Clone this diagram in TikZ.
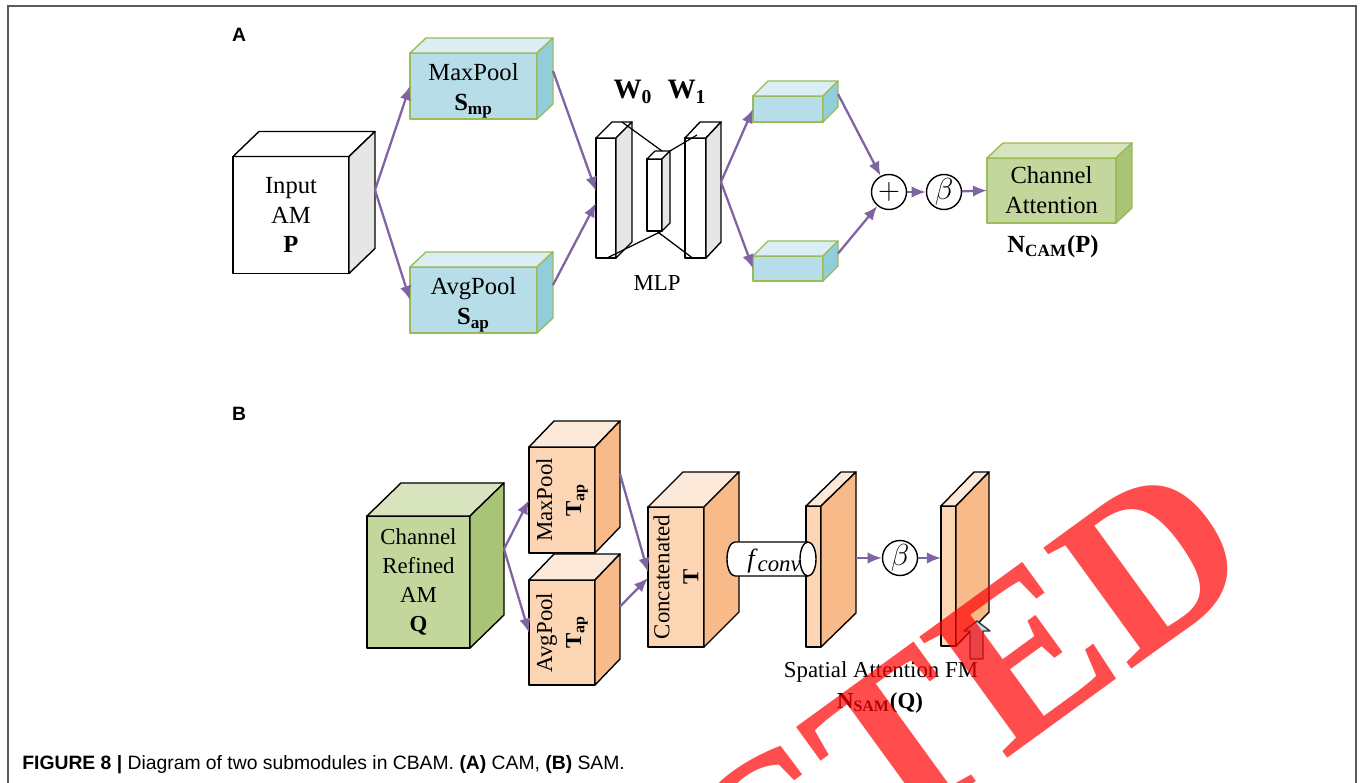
\documentclass[tikz,border=0pt]{standalone}
\usepackage{fontspec}
\setmainfont{Liberation Serif}
\setsansfont{Liberation Sans}
\newfontfamily\capfont{Liberation Sans}
\usepackage{tikz}
\usetikzlibrary{arrows.meta,calc}

\definecolor{arrowpurple}{HTML}{8064A2}
\definecolor{bluefront}{HTML}{B7DDE8}
\definecolor{bluetop}{HTML}{DAEEF3}
\definecolor{blueside}{HTML}{92CDDC}
\definecolor{greenfront}{HTML}{C3D69B}
\definecolor{greentop}{HTML}{D7E4BD}
\definecolor{greenside}{HTML}{A9C476}
\definecolor{greenedge}{HTML}{9BBB59}
\definecolor{orangefront}{HTML}{FCD5B5}
\definecolor{orangetop}{HTML}{FDE9D9}
\definecolor{orangeside}{HTML}{F9BA8A}
\definecolor{grayside}{HTML}{E6E6E6}
\definecolor{framegray}{HTML}{5A5A5A}

\tikzset{
  face/.style={draw=black, line width=0.8pt, line join=round},
  box/.style 2 args={rectangle, inner sep=0pt, outer sep=0pt, align=center,
    minimum width=#1*0.02cm, minimum height=#2*0.02cm},
  whiteface/.style={face, fill=white},
  grayface/.style={face, fill=grayside},
  bluefrontface/.style={face, draw=greenedge, fill=bluefront},
  bluetopface/.style={face, draw=greenedge, fill=bluetop},
  bluesideface/.style={face, draw=greenedge, fill=blueside},
  camfrontface/.style={face, draw=greenedge, fill=greenfront},
  camtopface/.style={face, draw=greenedge, fill=greentop},
  camsideface/.style={face, draw=greenedge, fill=greenside},
  greenfrontface/.style={face, fill=greenfront},
  greentopface/.style={face, fill=greentop},
  greensideface/.style={face, fill=greenside},
  orangefrontface/.style={face, fill=orangefront},
  orangetopface/.style={face, fill=orangetop},
  orangesideface/.style={face, fill=orangeside},
  conn/.style={arrowpurple, line width=1.3pt, -{Latex[length=8pt,width=6.5pt]}},
  opcirc/.style={circle, draw, line width=0.8pt, fill=white, inner sep=0pt,
    minimum size=35*0.02cm, font=\fontsize{18}{20}\selectfont},
  panel/.style={font=\sffamily\bfseries\fontsize{11}{13}\selectfont}
}

% top and side faces of a box whose front face is the node #1
\newcommand{\cuboid}[5]{%
  \draw[#4] (#1.north west) -- ++(#2,#3) -- ($(#1.north east)+(#2,#3)$) -- (#1.north east) -- cycle;
  \draw[#5] (#1.north east) -- ++(#2,#3) -- ($(#1.south east)+(#2,#3)$) -- (#1.south east) -- cycle;
  \coordinate (#1-r) at ($(#1.east)+(#2,#3)$);
}

\begin{document}
\begin{tikzpicture}[x=0.02cm, y=-0.02cm, font=\fontsize{14}{17}\selectfont]
\useasboundingbox (0,0) rectangle (1360,783);

%frame round the figure
\draw[framegray, line width=1pt] (8,783) -- (8,6) -- (1356,6) -- (1356,783);

%%%%%% part A: channel attention
\node[panel] (labA) at (239,35) {A};

%input cube and the two pooling boxes
\node[whiteface, box={116}{117}] (inp) at (291,215) {Input\\AM\\\textbf{P}};
\cuboid{inp}{26}{-25}{whiteface}{grayface}
\node[bluefrontface, box={127}{66}] (maxp) at (473.5,86) {\rule{0pt}{15pt}MaxPool\\\textbf{S\textsubscript{mp}}};
\cuboid{maxp}{16}{-15}{bluetopface}{bluesideface}
\node[bluefrontface, box={127}{66}] (avgp) at (473.5,300) {\rule{0pt}{15pt}AvgPool\\\textbf{S\textsubscript{ap}}};
\cuboid{avgp}{16}{-15}{bluetopface}{bluesideface}

%shared MLP
\node[whiteface, box={20}{120}] (w0) at (606,198) {};
\cuboid{w0}{16}{-16}{whiteface}{grayface}
\node[whiteface, box={15}{72}] (hid) at (654.5,195) {};
\cuboid{hid}{8}{-8}{whiteface}{grayface}
\node[whiteface, box={21}{120}] (w1) at (695.5,198) {};
\cuboid{w1}{15}{-16}{whiteface}{grayface}
\draw[line width=0.7pt] ($(w0.north)+(16,-16)$) -- ($(hid.north east)+(0,-8)$);
\draw[line width=0.7pt] ($(hid.north east)+(8,-8)$) -- ($(w1.north west)+(12,-3)$);
\draw[line width=0.7pt] ($(w0.south)+(1,0)$) -- (hid.south east);
\draw[line width=0.7pt] ($(hid.south)+(2,0)$) -- ($(w1.south)+(-3,0)$);
\node[font=\bfseries\fontsize{16}{18}\selectfont] (lw0) at (633,92) {W\textsubscript{0}};
\node[font=\bfseries\fontsize{16}{18}\selectfont] (lw1) at (687,92) {W\textsubscript{1}};
\node[font=\fontsize{13}{15}\selectfont] (lmlp) at (657,283) {MLP};

%outputs of the MLP
\node[bluefrontface, box={70}{26}] (out1) at (788,109) {};
\cuboid{out1}{15}{-15}{bluetopface}{bluesideface}
\node[bluefrontface, box={70}{25}] (out2) at (788,268.5) {};
\cuboid{out2}{15}{-15}{bluetopface}{bluesideface}

%sum, sigmoid and result
\node[opcirc] (plus) at (889,192) {$+$};
\node[opcirc] (beta) at (944,192) {$\beta$};
\node[camfrontface, box={129}{65}] (cam) at (1051.5,190.5) {Channel\\Attention};
\cuboid{cam}{16}{-15}{camtopface}{camsideface}
\node[font=\bfseries\fontsize{14}{17}\selectfont] (ncam) at (1053,247) {N\textsubscript{CAM}(P)};

%connectors of part A
\draw[conn] (inp-r) -- (maxp.west);
\draw[conn] (inp-r) -- (avgp.west);
\draw[conn] (maxp-r) -- ($(w0.west)+(0,-7)$);
\draw[conn] (avgp-r) -- ($(w0.west)+(0,5)$);
\draw[conn] (w1-r) -- (out1.west);
\draw[conn] (w1-r) -- (out2.west);
\draw[conn] (out1-r) -- (plus);
\draw[conn] (out2-r) -- (plus);
\draw[conn] (plus) -- (beta);
\draw[conn] (beta) -- (cam.west);

%%%%%% part B: spatial attention
\node[panel] (labB) at (239,414) {B};

\begin{scope}[font=\fontsize{13}{16.5}\selectfont]
%channel refined input
\node[greenfrontface, box={103}{132}] (q) at (418.5,582) {Channel\\Refined\\AM\\\textbf{Q}};
\cuboid{q}{34}{-33}{greentopface}{greensideface}

%pooling along the channels
\node[orangefrontface, box={66}{106}] (tmax) at (562,500) {};
\cuboid{tmax}{25}{-26}{orangetopface}{orangesideface}
\node[rotate=90, align=center] (tmaxtxt) at (tmax) {MaxPool\\\textbf{T\textsubscript{ap}}};
\node[orangefrontface, box={66}{105}] (tavg) at (562,632.5) {};
\cuboid{tavg}{25}{-26}{orangetopface}{orangesideface}
\node[rotate=90, align=center] (tavgtxt) at (tavg) {AvgPool\\\textbf{T\textsubscript{ap}}};

%concatenation
\node[orangefrontface, box={56}{140}] (cat) at (676,577) {};
\cuboid{cat}{35}{-35}{orangetopface}{orangesideface}
\node[rotate=90, align=center] (cattxt) at (cat) {Concatenated\\\textbf{T}};

%convolved map and attention map
\node[orangefrontface, box={15}{141}] (slab1) at (813.5,576.5) {};
\cuboid{slab1}{35}{-34}{orangetopface}{orangesideface}
\node[orangefrontface, box={15}{140}] (slab2) at (948.5,576) {};
\cuboid{slab2}{33}{-34}{orangetopface}{orangesideface}

%convolution drawn as a tube
\draw[whiteface] (808,542) -- (735,542) arc[start angle=270, end angle=90, x radius=8, y radius=17] -- (808,576);
\draw[whiteface] (808,559) ellipse[x radius=8, y radius=17];
\node[font=\fontsize{15}{17}\selectfont] (conv) at (774,561) {\textit{f}\raisebox{-0.35ex}{\fontsize{13}{15}\selectfont\textit{conv}}};

%sigmoid
\node[opcirc] (beta2) at (900,558) {$\beta$};

%small upward arrow under the map
\draw[face, draw=black!80, fill=bluefront] (970,659) -- (970,631) -- (964,631) -- (977,621) -- (990,631) -- (983,631) -- (983,659) -- cycle;

\node (lsam) at (881,672) {Spatial Attention FM};
\node[font=\bfseries\fontsize{13}{16}\selectfont] (nsam) at (880,703) {N\textsubscript{SAM}(Q)};
\end{scope}

%connectors of part B
\draw[conn] (q-r) -- (tmax.west);
\draw[conn] (q-r) -- (tavg.west);
\draw[conn] (tmax-r) -- ($(cat.west)+(0,-5)$);
\draw[conn] (tavg-r) -- ($(cat.west)+(0,1)$);
\draw[conn] (slab1-r |- beta2) -- (beta2);
\draw[conn] (beta2) -- (beta2 -| slab2.west);

%caption
\node[anchor=base west, inner sep=0pt, font=\capfont\fontsize{11}{13}\selectfont] (cap) at (22,769)
  {\textbf{FIGURE 8 |} Diagram of two submodules in CBAM. \textbf{(A)} CAM, \textbf{(B)} SAM.};

%stamp over the picture
\node[rotate=36, anchor=base east, inner sep=0pt, text=red, text opacity=0.7,
  font=\bfseries\fontsize{130}{130}\selectfont] (stamp) at (1262,574) {RETRACTED};
\end{tikzpicture}
\end{document}
